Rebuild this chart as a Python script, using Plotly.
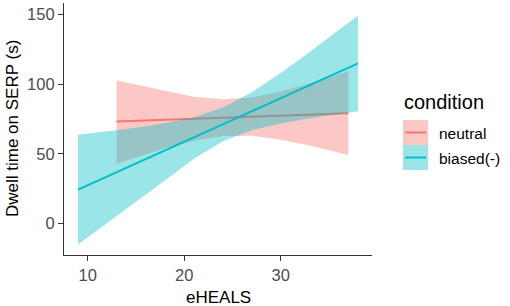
import plotly.graph_objects as go

# ---- data ----
neutral_x = [13, 15, 18, 21, 24, 27, 30, 33, 36, 37]
neutral_fit = [73.2, 73.7, 74.5, 75.2, 76.0, 76.7, 77.5, 78.2, 79.0, 79.2]
neutral_lo = [43.0, 47.7, 54.0, 59.4, 62.8, 63.0, 60.2, 56.0, 51.0, 49.2]
neutral_hi = [102.6, 99.7, 94.9, 91.0, 89.1, 90.4, 94.7, 100.4, 107.0, 109.4]

biased_x = [9, 12, 15, 18, 21, 24, 27, 30, 33, 36, 38]
biased_fit = [24.4, 33.8, 43.1, 52.5, 61.8, 71.2, 80.6, 89.9, 99.3, 108.7, 114.9]
biased_lo = [-15.0, 0.5, 15.5, 31.0, 46.5, 59.0, 67.0, 71.8, 75.5, 78.5, 80.5]
biased_hi = [63.8, 66.3, 68.8, 72.0, 76.3, 83.2, 94.2, 108.0, 123.1, 138.9, 149.0]

x_ticks = [10, 20, 30]
y_ticks = [0, 50, 100, 150]
legend_labels = ["neutral", "biased(-)"]

C_NEU = "#F8766D"
C_BIA = "#00BFC4"
F_NEU = "rgba(248,118,109,0.4)"
F_BIA = "rgba(0,191,196,0.4)"

FONT = "Arial, 'Liberation Sans', sans-serif"

fig = go.Figure()

def band(x, lo, hi, fill):
    fig.add_trace(go.Scatter(
        x=list(x) + list(x)[::-1], y=list(hi) + list(lo)[::-1],
        fill="toself", fillcolor=fill, line=dict(width=0),
        mode="lines", hoverinfo="skip", showlegend=False))

def line(x, y, col):
    fig.add_trace(go.Scatter(x=x, y=y, mode="lines",
                             line=dict(color=col, width=2), showlegend=False))

band(neutral_x, neutral_lo, neutral_hi, F_NEU)
line(neutral_x, neutral_fit, C_NEU)
band(biased_x, biased_lo, biased_hi, F_BIA)
line(biased_x, biased_fit, C_BIA)

# plot area in pixels
L, R, T, B = 64, 372, 3, 255
W, H = 510, 306

def px(xp):
    return (xp - L) / (R - L)

def py(yp):
    return (B - yp) / (B - T)

# axis titles
fig.add_annotation(x=px(218), y=py(297), xref="paper", yref="paper",
                   text="eHEALS", showarrow=False, xanchor="center", yanchor="middle",
                   font=dict(family=FONT, size=17, color="black"))
fig.add_annotation(x=px(12), y=py(129), xref="paper", yref="paper",
                   text="Dwell time on SERP (s)", showarrow=False, textangle=-90,
                   xanchor="center", yanchor="middle",
                   font=dict(family=FONT, size=17, color="black"))

# manual ggplot-style legend
fig.add_annotation(x=px(402), y=py(102), xref="paper", yref="paper",
                   text="condition", showarrow=False, xanchor="left", yanchor="middle",
                   font=dict(family=FONT, size=20, color="black"))
keys = [(C_NEU, F_NEU, 120), (C_BIA, F_BIA, 145)]
for (lc, fc, top), lab in zip(keys, legend_labels):
    fig.add_shape(type="rect", xref="paper", yref="paper",
                  x0=px(403), x1=px(428), y0=py(top + 25), y1=py(top),
                  fillcolor=fc, line=dict(width=0), layer="above")
    fig.add_shape(type="line", xref="paper", yref="paper",
                  x0=px(405), x1=px(426), y0=py(top + 12.5), y1=py(top + 12.5),
                  line=dict(color=lc, width=2), layer="above")
    fig.add_annotation(x=px(437), y=py(top + 13), xref="paper", yref="paper",
                       text=lab, showarrow=False, xanchor="left", yanchor="middle",
                       font=dict(family=FONT, size=15.5, color="black"))

axis_common = dict(showgrid=False, zeroline=False, showline=True,
                   linecolor="#333333", linewidth=1.2, ticks="outside",
                   ticklen=5, tickcolor="#333333", tickwidth=1.2, automargin=False,
                   tickfont=dict(family=FONT, size=16.5, color="#4D4D4D"))

fig.update_layout(
    width=W, height=H,
    margin=dict(l=L, r=W - R, t=T, b=H - B, autoexpand=False),
    paper_bgcolor="white", plot_bgcolor="white",
    showlegend=False,
    xaxis=dict(range=[7.55, 39.45], tickvals=x_ticks, **axis_common),
    yaxis=dict(range=[-22.5, 158.2], tickvals=y_ticks, ticklabelstandoff=0, **axis_common),
)

fig.write_html("out.html", config={"displayModeBar": False},
               post_script="document.body.style.margin='0';document.body.style.overflow='hidden';")
